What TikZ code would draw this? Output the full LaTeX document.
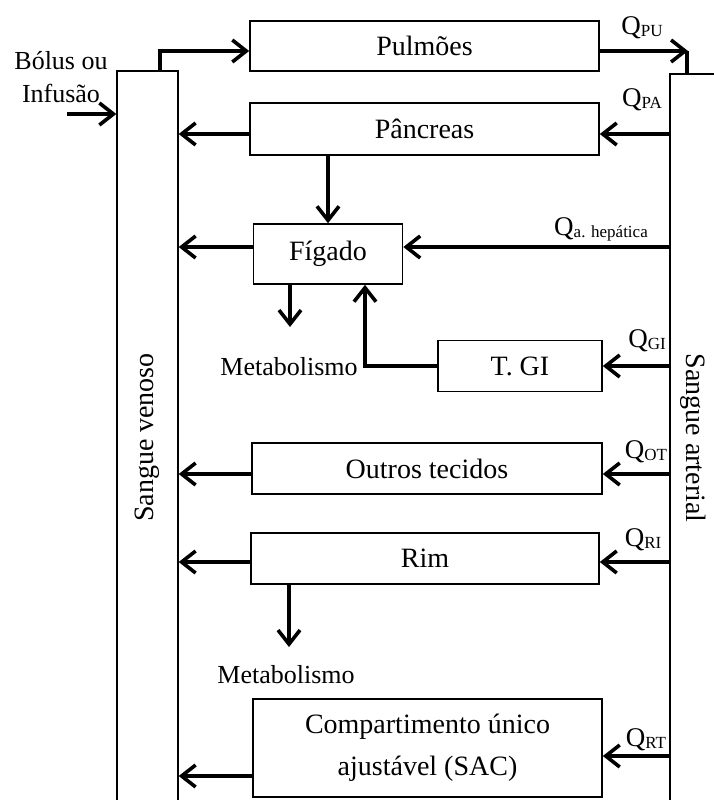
\documentclass[tikz,border=0pt]{standalone}
\usepackage{fontspec}
\setmainfont{Liberation Serif}
\usetikzlibrary{arrows.meta}

\newcommand{\flux}[1]{Q\raisebox{-2pt}{\fontsize{17}{17}\selectfont #1}}

\tikzset{
  box/.style={draw, line width=1.6pt, minimum height=51, minimum width=350, inner sep=0pt, font=\fontsize{28}{42}\selectfont},
  bar/.style={draw, line width=1.4pt, inner sep=0pt, font=\fontsize{28}{33}\selectfont},
  flow/.style={line width=3.6pt, -{Straight Barb[length=14pt,width=22pt]}},
  link/.style={line width=3.6pt},
  note/.style={inner sep=0pt, font=\fontsize{26}{33}\selectfont},
  flux/.style={inner sep=0pt, font=\fontsize{27}{30}\selectfont},
}

\begin{document}
\begin{tikzpicture}[x=1pt, y=-1pt]
\useasboundingbox (0,0) rectangle (713,800);

% blood pools
\node[bar, minimum width=61, minimum height=733] (venoso) at (147.5,437.5) {\rotatebox{90}{Sangue venoso}};
\node[bar, minimum width=46, minimum height=728] (arterial) at (693,438) {\rotatebox{-90}{Sangue arterial}};

% organs
\node[box, minimum width=349, minimum height=50] (pulmoes) at (424.5,46) {Pulmões};
\node[box, minimum width=349, minimum height=52] (pancreas) at (424.5,129) {Pâncreas};
\node[box, minimum width=149, minimum height=60] (figado) at (328,254) {Fígado};
\node[box, minimum width=164] (tgi) at (520,366) {T. GI};
\node[box] (outros) at (427,468.5) {Outros tecidos};
\node[box, minimum width=348] (rim) at (425,558.5) {Rim};
\node[box, minimum width=349, minimum height=98, align=center] (sac) at (427.5,748) {Compartimento único\\ajustável (SAC)};

% texts
\node[note, align=center] (bolus) at (61,77) {Bólus ou\\Infusão};
\node[note] (metab1) at (289,367) {Metabolismo};
\node[note] (metab2) at (286,675) {Metabolismo};

\node[flux] (qpu) at (642,28) {\flux{PU}};
\node[flux] (qpa) at (642,100) {\flux{PA}};
\node[flux] (qha) at (601,229) {\flux{a. hepática}};
\node[flux] (qgi) at (647,341) {\flux{GI}};
\node[flux] (qot) at (646,452) {\flux{OT}};
\node[flux] (qri) at (643,540) {\flux{RI}};
\node[flux] (qrt) at (646,740) {\flux{RT}};

\coordinate (inj) at (67,114);
\coordinate (pu) at (688,51);
\coordinate (m1) at (290,327);
\coordinate (m2) at (289,647);

% flows
\draw[flow] (inj) -- (inj -| venoso.west);
\draw[flow] ([xshift=12.5]venoso.north) |- ([yshift=-5]pulmoes.west);
\draw[flow] ([yshift=-5]pulmoes.east) -- (pu);
\draw[link] ([xshift=-1]pu) -- ([xshift=-1]pu |- arterial.north);

\draw[flow] ([yshift=-5]pancreas.east -| arterial.west) -- ([yshift=-5]pancreas.east);
\draw[flow] ([yshift=-5]pancreas.west) -- ([yshift=-5]pancreas.west -| venoso.east);
\draw[flow] (pancreas.south -| figado.north) -- (figado.north);

\draw[flow] ([yshift=7]figado.east -| arterial.west) -- ([yshift=7]figado.east);
\draw[flow] ([yshift=7]figado.west) -- ([yshift=7]figado.west -| venoso.east);
\draw[flow] (figado.south -| m1) -- (m1);

\draw[flow] (tgi.east -| arterial.west) -- (tgi.east);
\draw[flow] (tgi.west) -| ([xshift=37]figado.south);

\draw[flow] ([yshift=-5.5]outros.east -| arterial.west) -- ([yshift=-5.5]outros.east);
\draw[flow] ([yshift=-5.5]outros.west) -- ([yshift=-5.5]outros.west -| venoso.east);

\draw[flow] ([yshift=-3.5]rim.east -| arterial.west) -- ([yshift=-3.5]rim.east);
\draw[flow] ([yshift=-3.5]rim.west) -- ([yshift=-3.5]rim.west -| venoso.east);
\draw[flow] (rim.south -| m2) -- (m2);

\draw[flow] ([yshift=-8]sac.east -| arterial.west) -- ([yshift=-8]sac.east);
\draw[flow] ([yshift=-28]sac.west) -- ([yshift=-28]sac.west -| venoso.east);
\end{tikzpicture}
\end{document}
